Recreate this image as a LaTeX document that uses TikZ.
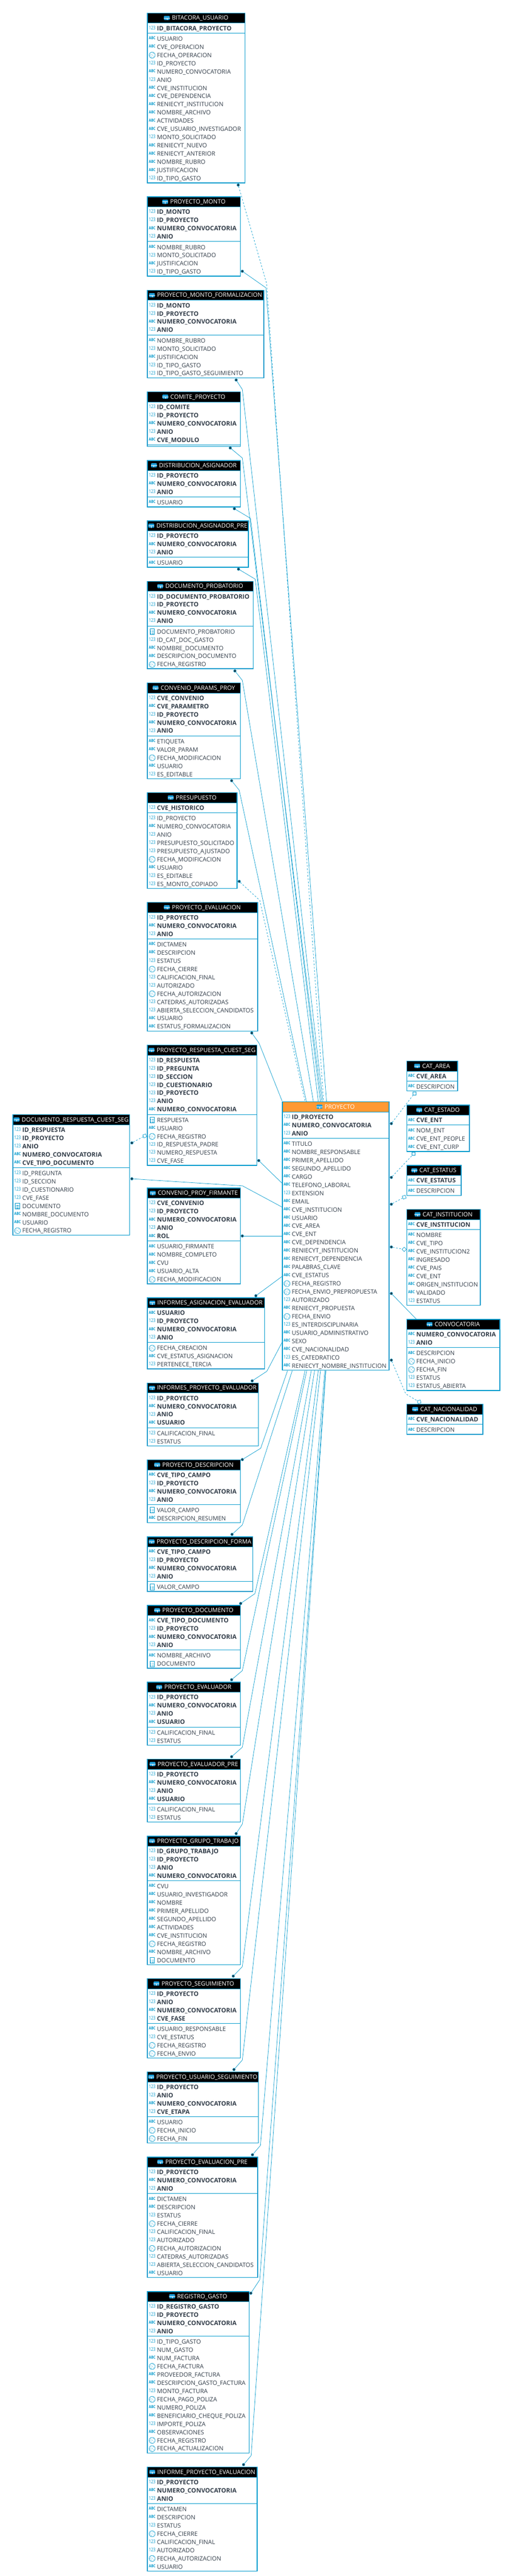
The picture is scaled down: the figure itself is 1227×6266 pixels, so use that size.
\documentclass[tikz,border=0pt]{standalone}
\usepackage{fontspec}
\setmainfont{Open Sans}
\usetikzlibrary{positioning}
\catcode`\_=12
\definecolor{er blue}{HTML}{0099CC}
\definecolor{er icon}{HTML}{1FA0DC}
\definecolor{er text}{HTML}{333E4A}
\definecolor{er dot}{HTML}{1E3F50}
\definecolor{er main}{HTML}{FF9933}
\tikzset{
	tablebox/.style={draw=er blue, line width=2pt, fill=white, rectangle, inner sep=0pt, outer sep=0pt, anchor=north west},
	tablerule/.style={draw=er blue, line width=.9pt},
	titletext/.style={text=white, font=\fontsize{14.55}{16}\selectfont, inner sep=0pt, text height=10.5pt, text depth=0pt},
	keytext/.style={text=er text, font=\fontsize{15}{16}\selectfont\bfseries, anchor=west, inner sep=0pt, text height=10.5pt, text depth=0pt},
	resttext/.style={text=er text, font=\fontsize{14.55}{16}\selectfont, anchor=west, inner sep=0pt, text height=10.5pt, text depth=0pt},
	numtype/.style={text=er blue, font=\fontsize{12}{12}\selectfont, inner sep=0pt},
	abctype/.style={text=er blue, font=\fontsize{9.8}{10}\selectfont\bfseries, inner sep=0pt},
	datetype/.style={draw=er blue, line width=.9pt, circle, inner sep=0pt, minimum size=14.5pt},
	blobtype/.style={draw=er blue, line width=.9pt, rectangle, inner sep=0pt, minimum width=10.5pt, minimum height=14pt},
	headicon/.style={fill=er icon, rounded corners=1.5pt, inner sep=0pt, minimum width=14pt, minimum height=10pt},
	fkdot/.style={circle, fill=er dot, draw=er blue, line width=.7pt, inner sep=0pt, minimum size=6.5pt},
	pkmark/.style={rectangle, fill=white, draw=er blue, line width=.9pt, inner sep=0pt, minimum size=7.5pt},
	identrel/.style={draw=er blue, line width=.9pt},
	nonidentrel/.style={draw=er blue, line width=.9pt, dash pattern=on 4pt off 4pt}
}
\newcount\keycount
\newcount\restcount
% type icons: name, left of table, row centre
\newcommand{\typen}[3]{\node[numtype] (#1) at (#2+12.3,#3-1.5) {\scalebox{.78}[1]{123}};}
\newcommand{\typea}[3]{\node[abctype] (#1) at (#2+12.3,#3-1.5) {\scalebox{.82}[1]{ABC}};}
\newcommand{\typed}[3]{\node[datetype] (#1) at (#2+12.3,#3) {};
	\foreach \dx/\dy in {-3/-2,2.5/-4,0/0,3.5/2.5,-2/4,-5/1}
		\fill[er blue] (#2+12.3+\dx,#3+\dy) circle (.75);}
\newcommand{\typeb}[3]{\node[blobtype] (#1) at (#2+12.3,#3) {};
	\foreach \dx in {-3,0,3}
		\foreach \dy in {-1,2,5}
			\fill[er blue] (#2+12.3+\dx-.8,#3+\dy-.8) rectangle +(1.6,1.6);}
% optional header colour, name, left, top, right, title, keys, other columns
\newcommand{\ertable}[8][black]{
	\global\keycount=0
	\global\restcount=0
	\foreach \kind/\field in {#7} {\global\advance\keycount by 1}
	\if\relax\detokenize{#8}\relax\else
	\foreach \kind/\field in {#8} {\global\advance\restcount by 1}
	\fi
	\pgfmathsetmacro{\tableh}{33+20*(\keycount+\restcount)}
	\pgfmathsetmacro{\tablew}{#5-#3-2}
	\pgfmathsetmacro{\rulepos}{#4+29.5+20*\keycount}
	\node[tablebox, minimum width=\tablew pt, minimum height=\tableh pt] (#2) at (#3+1,#4+1) {};
	\fill[#1] (#3+2,#4+2) rectangle (#5-2,#4+25);
	\draw[tablerule] (#3+2,#4+25.4) -- (#5-2,#4+25.4);
	\draw[tablerule] (#3+2,\rulepos) -- (#5-2,\rulepos);
	\node[titletext] (#2title) at ({(#3+#5)/2+9.5},#4+12.8) {#6};
	\node[headicon, left=5pt of #2title] (#2icon) {};
	\draw[white, line width=.7pt] (#2icon.west) -- (#2icon.east);
	\draw[white, line width=.7pt] (#2icon.center) -- (#2icon.south);
	\foreach \kind/\field [count=\i from 0] in {#7} {
		\csname type\kind\endcsname{#2ka\i}{#3}{#4+38+20*\i}
		\node[keytext] (#2k\i) at (#3+24,#4+38+20*\i) {\field};
	}
	\if\relax\detokenize{#8}\relax\else
	\foreach \kind/\field [count=\i from 0] in {#8} {
		\csname type\kind\endcsname{#2ra\i}{#3}{\rulepos+13.8+20*\i}
		\node[resttext] (#2r\i) at (#3+24,\rulepos+13.8+20*\i) {\field};
	}
	\fi
}
\begin{document}
\begin{tikzpicture}[x=1pt,y=-1pt]
	\useasboundingbox (0,0) rectangle (1227,6266);

	\ertable{bitacora}{357.7}{30.8}{596.7}{BITACORA_USUARIO}{n/ID_BITACORA_PROYECTO}{a/USUARIO,a/CVE_OPERACION,d/FECHA_OPERACION,n/ID_PROYECTO,a/NUMERO_CONVOCATORIA,n/ANIO,a/CVE_INSTITUCION,a/CVE_DEPENDENCIA,a/RENIECYT_INSTITUCION,a/NOMBRE_ARCHIVO,a/ACTIVIDADES,a/CVE_USUARIO_INVESTIGADOR,n/MONTO_SOLICITADO,a/RENIECYT_NUEVO,a/RENIECYT_ANTERIOR,a/NOMBRE_RUBRO,a/JUSTIFICACION,n/ID_TIPO_GASTO}
	\ertable{monto}{357.7}{478}{585.7}{PROYECTO_MONTO}{n/ID_MONTO,n/ID_PROYECTO,a/NUMERO_CONVOCATORIA,n/ANIO}{a/NOMBRE_RUBRO,n/MONTO_SOLICITADO,a/JUSTIFICACION,n/ID_TIPO_GASTO}
	\ertable{formal}{357.7}{705}{642.7}{PROYECTO_MONTO_FORMALIZACION}{n/ID_MONTO,n/ID_PROYECTO,a/NUMERO_CONVOCATORIA,n/ANIO}{a/NOMBRE_RUBRO,n/MONTO_SOLICITADO,a/JUSTIFICACION,n/ID_TIPO_GASTO,n/ID_TIPO_GASTO_SEGUIMIENTO}
	\ertable{comite}{357.7}{952}{585.7}{COMITE_PROYECTO}{n/ID_COMITE,n/ID_PROYECTO,a/NUMERO_CONVOCATORIA,n/ANIO,a/CVE_MODULO}{}
	\ertable{asig}{357.7}{1119}{585.7}{DISTRIBUCION_ASIGNADOR}{n/ID_PROYECTO,a/NUMERO_CONVOCATORIA,n/ANIO}{a/USUARIO}
	\ertable{asigpre}{357.7}{1266}{605.3}{DISTRIBUCION_ASIGNADOR_PRE}{n/ID_PROYECTO,a/NUMERO_CONVOCATORIA,n/ANIO}{a/USUARIO}
	\ertable{docprob}{357.7}{1413}{616.7}{DOCUMENTO_PROBATORIO}{n/ID_DOCUMENTO_PROBATORIO,n/ID_PROYECTO,a/NUMERO_CONVOCATORIA,n/ANIO}{b/DOCUMENTO_PROBATORIO,n/ID_CAT_DOC_GASTO,a/NOMBRE_DOCUMENTO,a/DESCRIPCION_DOCUMENTO,d/FECHA_REGISTRO}
	\ertable{params}{357.7}{1660}{585.7}{CONVENIO_PARAMS_PROY}{n/CVE_CONVENIO,a/CVE_PARAMETRO,n/ID_PROYECTO,a/NUMERO_CONVOCATORIA,n/ANIO}{a/ETIQUETA,a/VALOR_PARAM,d/FECHA_MODIFICACION,a/USUARIO,n/ES_EDITABLE}
	\ertable{presupuesto}{357.7}{1927}{577.3}{PRESUPUESTO}{n/CVE_HISTORICO}{n/ID_PROYECTO,a/NUMERO_CONVOCATORIA,n/ANIO,n/PRESUPUESTO_SOLICITADO,n/PRESUPUESTO_AJUSTADO,d/FECHA_MODIFICACION,a/USUARIO,n/ES_EDITABLE,n/ES_MONTO_COPIADO}
	\ertable{evaluacion}{357.7}{2194}{627.3}{PROYECTO_EVALUACION}{n/ID_PROYECTO,a/NUMERO_CONVOCATORIA,n/ANIO}{a/DICTAMEN,a/DESCRIPCION,n/ESTATUS,d/FECHA_CIERRE,n/CALIFICACION_FINAL,n/AUTORIZADO,d/FECHA_AUTORIZACION,n/CATEDRAS_AUTORIZADAS,n/ABIERTA_SELECCION_CANDIDATOS,a/USUARIO,a/ESTATUS_FORMALIZACION}
	\ertable{respuesta}{357.7}{2541}{625.7}{PROYECTO_RESPUESTA_CUEST_SEG}{n/ID_RESPUESTA,n/ID_PREGUNTA,n/ID_SECCION,n/ID_CUESTIONARIO,n/ID_PROYECTO,n/ANIO,a/NUMERO_CONVOCATORIA}{b/RESPUESTA,a/USUARIO,d/FECHA_REGISTRO,n/ID_RESPUESTA_PADRE,n/NUMERO_RESPUESTA,n/CVE_FASE}
	\ertable{docresp}{30.3}{2710.3}{316.3}{DOCUMENTO_RESPUESTA_CUEST_SEG}{n/ID_RESPUESTA,n/ID_PROYECTO,n/ANIO,a/NUMERO_CONVOCATORIA,a/CVE_TIPO_DOCUMENTO}{n/ID_PREGUNTA,n/ID_SECCION,n/ID_CUESTIONARIO,n/CVE_FASE,b/DOCUMENTO,a/NOMBRE_DOCUMENTO,a/USUARIO,d/FECHA_REGISTRO}
	\ertable{firmante}{357.7}{2889}{585.7}{CONVENIO_PROY_FIRMANTE}{n/CVE_CONVENIO,n/ID_PROYECTO,a/NUMERO_CONVOCATORIA,n/ANIO,a/ROL}{a/USUARIO_FIRMANTE,a/NOMBRE_COMPLETO,a/CVU,a/USUARIO_ALTA,d/FECHA_MODIFICACION}
	\ertable{asigeval}{357.7}{3156}{644.7}{INFORMES_ASIGNACION_EVALUADOR}{a/USUARIO,n/ID_PROYECTO,a/NUMERO_CONVOCATORIA,n/ANIO}{d/FECHA_CREACION,a/CVE_ESTATUS_ASIGNACION,n/PERTENECE_TERCIA}
	\ertable{proyeval}{357.7}{3363}{629.3}{INFORMES_PROYECTO_EVALUADOR}{n/ID_PROYECTO,a/NUMERO_CONVOCATORIA,n/ANIO,a/USUARIO}{n/CALIFICACION_FINAL,n/ESTATUS}
	\ertable{desc}{357.7}{3550}{585.7}{PROYECTO_DESCRIPCION}{a/CVE_TIPO_CAMPO,n/ID_PROYECTO,a/NUMERO_CONVOCATORIA,n/ANIO}{b/VALOR_CAMPO,a/DESCRIPCION_RESUMEN}
	\ertable{descforma}{357.7}{3737}{615.7}{PROYECTO_DESCRIPCION_FORMA}{a/CVE_TIPO_CAMPO,n/ID_PROYECTO,a/NUMERO_CONVOCATORIA,n/ANIO}{b/VALOR_CAMPO}
	\ertable{documento}{357.7}{3904}{585.7}{PROYECTO_DOCUMENTO}{a/CVE_TIPO_DOCUMENTO,n/ID_PROYECTO,a/NUMERO_CONVOCATORIA,n/ANIO}{a/NOMBRE_ARCHIVO,b/DOCUMENTO}
	\ertable{evaluador}{357.7}{4091}{585.7}{PROYECTO_EVALUADOR}{n/ID_PROYECTO,a/NUMERO_CONVOCATORIA,n/ANIO,a/USUARIO}{n/CALIFICACION_FINAL,n/ESTATUS}
	\ertable{evalpre}{357.7}{4278}{585.7}{PROYECTO_EVALUADOR_PRE}{n/ID_PROYECTO,a/NUMERO_CONVOCATORIA,n/ANIO,a/USUARIO}{n/CALIFICACION_FINAL,n/ESTATUS}
	\ertable{grupo}{357.7}{4465}{585.7}{PROYECTO_GRUPO_TRABAJO}{n/ID_GRUPO_TRABAJO,n/ID_PROYECTO,n/ANIO,a/NUMERO_CONVOCATORIA}{a/CVU,a/USUARIO_INVESTIGADOR,a/NOMBRE,a/PRIMER_APELLIDO,a/SEGUNDO_APELLIDO,a/ACTIVIDADES,a/CVE_INSTITUCION,d/FECHA_REGISTRO,a/NOMBRE_ARCHIVO,b/DOCUMENTO}
	\ertable{seguimiento}{357.7}{4812}{585.7}{PROYECTO_SEGUIMIENTO}{n/ID_PROYECTO,n/ANIO,a/NUMERO_CONVOCATORIA,n/CVE_FASE}{a/USUARIO_RESPONSABLE,n/CVE_ESTATUS,d/FECHA_REGISTRO,d/FECHA_ENVIO}
	\ertable{ususeg}{357.7}{5038.7}{629.3}{PROYECTO_USUARIO_SEGUIMIENTO}{n/ID_PROYECTO,n/ANIO,a/NUMERO_CONVOCATORIA,n/CVE_ETAPA}{a/USUARIO,d/FECHA_INICIO,d/FECHA_FIN}
	\ertable{evaluacionpre}{357.7}{5245.8}{627.3}{PROYECTO_EVALUACION_PRE}{n/ID_PROYECTO,a/NUMERO_CONVOCATORIA,n/ANIO}{a/DICTAMEN,a/DESCRIPCION,n/ESTATUS,d/FECHA_CIERRE,n/CALIFICACION_FINAL,n/AUTORIZADO,d/FECHA_AUTORIZACION,n/CATEDRAS_AUTORIZADAS,n/ABIERTA_SELECCION_CANDIDATOS,a/USUARIO}
	\ertable{gasto}{357.7}{5572.8}{606.7}{REGISTRO_GASTO}{n/ID_REGISTRO_GASTO,n/ID_PROYECTO,a/NUMERO_CONVOCATORIA,n/ANIO}{n/ID_TIPO_GASTO,n/NUM_GASTO,a/NUM_FACTURA,d/FECHA_FACTURA,a/PROVEEDOR_FACTURA,a/DESCRIPCION_GASTO_FACTURA,n/MONTO_FACTURA,d/FECHA_PAGO_POLIZA,a/NUMERO_POLIZA,a/BENEFICIARIO_CHEQUE_POLIZA,n/IMPORTE_POLIZA,a/OBSERVACIONES,d/FECHA_REGISTRO,d/FECHA_ACTUALIZACION}
	\ertable{informe}{357.7}{6000}{626.7}{INFORME_PROYECTO_EVALUACION}{n/ID_PROYECTO,a/NUMERO_CONVOCATORIA,n/ANIO}{a/DICTAMEN,a/DESCRIPCION,n/ESTATUS,d/FECHA_CIERRE,n/CALIFICACION_FINAL,n/AUTORIZADO,d/FECHA_AUTORIZACION,a/USUARIO}

	\ertable[er main]{proyecto}{685.7}{2679}{947.3}{PROYECTO}{n/ID_PROYECTO,a/NUMERO_CONVOCATORIA,n/ANIO}{a/TITULO,a/NOMBRE_RESPONSABLE,a/PRIMER_APELLIDO,a/SEGUNDO_APELLIDO,a/CARGO,a/TELEFONO_LABORAL,n/EXTENSION,a/EMAIL,a/CVE_INSTITUCION,a/USUARIO,a/CVE_AREA,a/CVE_ENT,a/CVE_DEPENDENCIA,a/RENIECYT_INSTITUCION,a/RENIECYT_DEPENDENCIA,a/PALABRAS_CLAVE,a/CVE_ESTATUS,d/FECHA_REGISTRO,d/FECHA_ENVIO_PREPROPUESTA,n/AUTORIZADO,a/RENIECYT_PROPUESTA,d/FECHA_ENVIO,n/ES_INTERDISCIPLINARIA,a/USUARIO_ADMINISTRATIVO,a/SEXO,a/CVE_NACIONALIDAD,n/ES_CATEDRATICO,a/RENIECYT_NOMBRE_INSTITUCION}

	\ertable{catarea}{988.3}{2579.8}{1113.7}{CAT_AREA}{a/CVE_AREA}{a/DESCRIPCION}
	\ertable{catestado}{988.3}{2687}{1142.7}{CAT_ESTADO}{a/CVE_ENT}{a/NOM_ENT,a/CVE_ENT_PEOPLE,a/CVE_ENT_CURP}
	\ertable{catestatus}{988.3}{2833.8}{1122.7}{CAT_ESTATUS}{a/CVE_ESTATUS}{a/DESCRIPCION}
	\ertable{catinst}{988.3}{2941}{1169.3}{CAT_INSTITUCION}{a/CVE_INSTITUCION}{a/NOMBRE,a/CVE_TIPO,a/CVE_INSTITUCION2,a/INGRESADO,a/CVE_PAIS,a/CVE_ENT,a/ORIGEN_INSTITUCION,a/VALIDADO,n/ESTATUS}
	\ertable{convocatoria}{988.3}{3208.2}{1216.7}{CONVOCATORIA}{a/NUMERO_CONVOCATORIA,n/ANIO}{a/DESCRIPCION,d/FECHA_INICIO,d/FECHA_FIN,n/ESTATUS,n/ESTATUS_ABIERTA}
	\ertable{catnac}{988.3}{3414.8}{1175.3}{CAT_NACIONALIDAD}{a/CVE_NACIONALIDAD}{a/DESCRIPCION}

	% children to PROYECTO
	\foreach \name/\dx/\dy/\bx/\by/\ex/\ey in {
		monto/589.3/659.8/646.7/700/794/2679,
		formal/574.3/924.3/589.3/947.3/785/2679,
		comite/560/1089.6/589.3/1114/782/2679,
		asig/570/1237.4/609.3/1260.9/779/2679,
		asigpre/580/1384.4/620.7/1408.7/774/2679,
		docprob/571.3/1632/589.3/1654.9/762/2679,
		params/563.3/1899/581.7/1922/745/2679,
		evaluacion/612.3/2512.6/630/2537.4/686/2678,
		respuesta/629.3/2823/657/2850/685.7/2877.8,
		docresp/320.7/2867.3/590/2884.6/685.7/2936,
		firmante/589.3/3006.3/640/3006.3/685.7/3006.3,
		asigeval/622.3/3151.8/654/3128.5/685.7/3105,
		proyeval/613.3/3358.9/649/3335.5/685.7/3265.7,
		desc/589.3/3550.3/634/3522.8/699.3/3334,
		descforma/564.3/3732.2/589.3/3709.3/710.7/3334,
		documento/585.3/3900.3/620/3876.4/742/3334,
		evaluador/563.3/4085.8/589.3/4063.7/746/3334,
		evalpre/563.3/4273/589.3/4250/757/3334,
		grupo/574.3/4460/589.3/4437/765/3334,
		seguimiento/567.3/4806.7/589.3/4783.7/774/3334,
		ususeg/569/5034/589.3/5011/779.4/3334,
		evaluacionpre/614/5241.3/633.3/5218.7/790/3334,
		gasto/610/5578/631.7/5545.3/792/3334,
		informe/592.3/5995/610.7/5973/792.5/3334} {
		\node[fkdot] (dot\name) at (\dx,\dy) {};
		\coordinate (bend\name) at (\bx,\by);
		\coordinate (end\name) at (\ex,\ey);
		\draw[identrel] (dot\name) -- (bend\name) -- (end\name);
	}
	\foreach \name/\dx/\dy/\bx/\by/\ex/\ey in {
		bitacora/579.3/450/648.5/690/787/2679,
		presupuesto/581.7/2143.9/631.7/2190/742/2679} {
		\node[fkdot] (dot\name) at (\dx,\dy) {};
		\coordinate (bend\name) at (\bx,\by);
		\coordinate (end\name) at (\ex,\ey);
		\draw[nonidentrel] (dot\name) -- (bend\name) -- (end\name);
	}

	% PROYECTO to the catalogues
	\foreach \name/\dx/\dy/\mx/\my/\turn in {
		area/951.7/2733/1008/2659.4/0,
		estado/951.7/2864/1006/2806.7/0,
		estatus/951.7/2929.2/983/2912/20,
		inst/951.7/3033.2/983/3039/45,
		nac/951.7/3308.4/1019.3/3410/15} {
		\node[fkdot] (dot\name) at (\dx,\dy) {};
		\node[pkmark, rotate=\turn] (mark\name) at (\mx,\my) {};
	}
	\draw[nonidentrel] (dotarea) -- (markarea);
	\draw[nonidentrel] (dotestado) -- (markestado);
	\draw[nonidentrel] (dotestatus) -- (markestatus);
	\draw[nonidentrel] (dotinst) -- (markinst);
	\coordinate (bendnac) at (986.7,3390.5);
	\draw[nonidentrel] (dotnac) -- (bendnac) -- (marknac);
	\node[fkdot] (dotconv) at (951.7,3146.3) {};
	\coordinate (endconv) at (1012,3208.2);
	\draw[identrel] (dotconv) -- (endconv);

	% between the two answer tables
	\node[fkdot] (dotresp) at (320.7,2780) {};
	\node[pkmark, rotate=20] (markresp) at (352,2763) {};
	\draw[nonidentrel] (dotresp) -- (markresp);
\end{tikzpicture}
\end{document}
